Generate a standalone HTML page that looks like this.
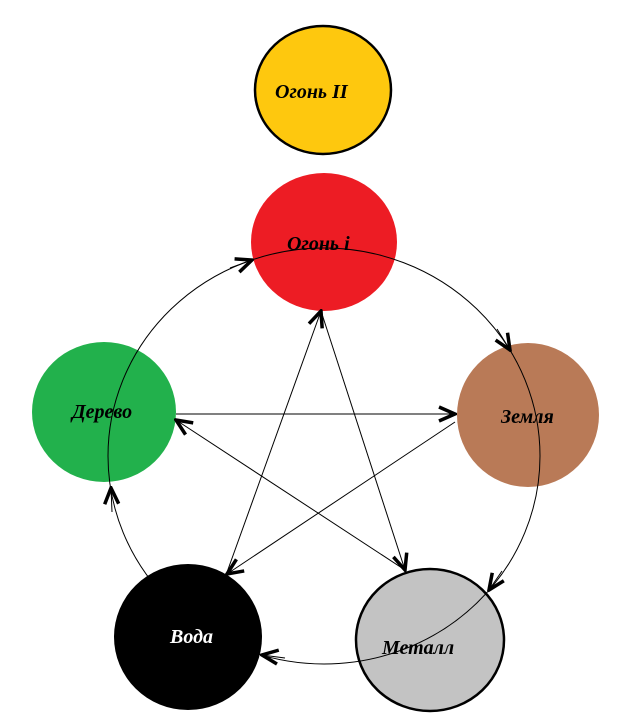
<!DOCTYPE html>
<html><head><meta charset="utf-8"><style>
html,body{margin:0;padding:0;background:#fff;}
svg{display:block;}
text{font-family:"Liberation Serif","DejaVu Serif",serif;font-style:italic;font-weight:bold;font-size:20px;}
</style></head><body>
<svg width="640" height="725" viewBox="0 0 640 725" xmlns="http://www.w3.org/2000/svg">
<defs>
<marker id="a" viewBox="0 0 20 20" refX="18" refY="10" markerWidth="20" markerHeight="20" markerUnits="userSpaceOnUse" orient="auto">
<polyline points="2,3 18,10 2,17" fill="none" stroke="#000" stroke-width="3.5"/>
</marker>
</defs>
<ellipse cx="323" cy="90" rx="68" ry="64" fill="#fec80e" stroke="#000" stroke-width="2.5"/>
<ellipse cx="324" cy="242" rx="73" ry="69" fill="#ed1c24"/>
<ellipse cx="104" cy="412" rx="72" ry="70" fill="#22b14c"/>
<ellipse cx="528" cy="415" rx="71" ry="72" fill="#b97a57"/>
<ellipse cx="188" cy="637" rx="74" ry="73" fill="#000"/>
<ellipse cx="430" cy="640" rx="74" ry="71" fill="#c3c3c3" stroke="#000" stroke-width="2.5"/>
<g fill="none" stroke="#000" stroke-width="1">
<ellipse cx="324" cy="456" rx="216" ry="208"/>
<line x1="176" y1="414" x2="455" y2="414" marker-end="url(#a)"/>
<line x1="455" y1="422" x2="227" y2="574" marker-end="url(#a)"/>
<line x1="405" y1="570" x2="176" y2="420" marker-end="url(#a)"/>
<line x1="226" y1="575" x2="321" y2="311" marker-end="url(#a)"/>
<line x1="321" y1="311" x2="405" y2="570" marker-end="url(#a)"/>
<path d="M230 268 L252 260" marker-end="url(#a)"/>
<path d="M497 329 L510 350" marker-end="url(#a)"/>
<path d="M502 571 L489 590" marker-end="url(#a)"/>
<path d="M285 658 L262 655" marker-end="url(#a)"/>
<path d="M112 512 L111 488" marker-end="url(#a)"/>
</g>
<text x="275" y="98">Огонь II</text>
<text x="287" y="250">Огонь i</text>
<text x="72" y="418">Дерево</text>
<text x="501" y="423">Земля</text>
<text x="170" y="643" fill="#fff">Вода</text>
<text x="382" y="654">Металл</text>
</svg>
</body></html>
